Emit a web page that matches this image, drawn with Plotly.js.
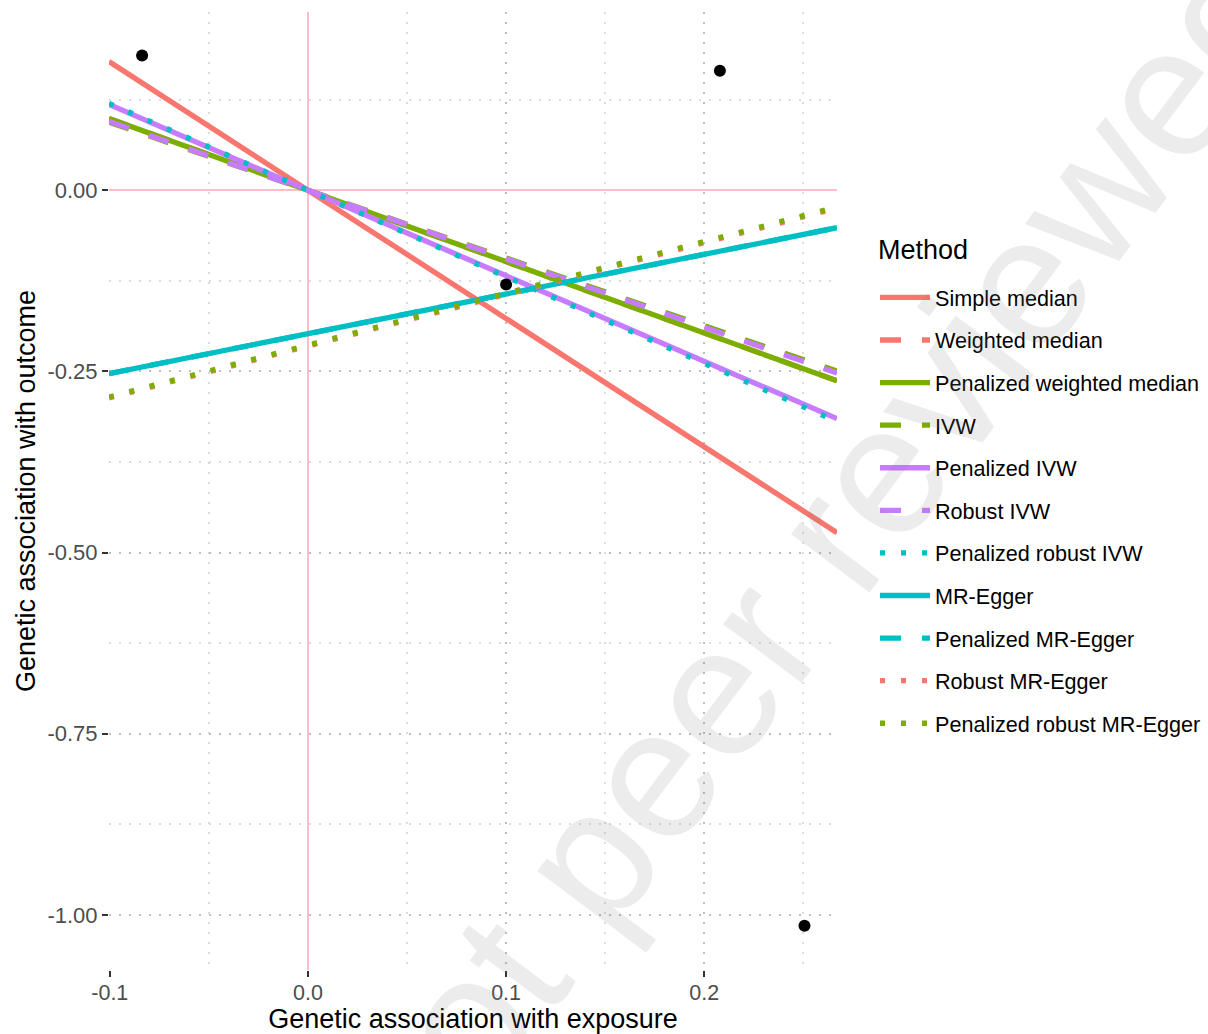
<!DOCTYPE html>
<html>
<head>
<meta charset="utf-8">
<script src="https://cdn.plot.ly/plotly-3.0.1.min.js"></script>
<style>html,body{margin:0;padding:0;background:#fff;}#chart{width:1208px;height:1034px;}</style>
</head>
<body>
<div id="chart"></div>
<script>
// SNP associations (points)
const snpX = [-0.0837, 0.1, 0.2079, 0.2506];
const snpY = [0.186, -0.13, 0.165, -1.015];

// Method estimates (intercept, slope) drawn as lines across the panel
const methods = ["Simple median", "Weighted median", "Penalized weighted median", "IVW",
  "Penalized IVW", "Robust IVW", "Penalized robust IVW", "MR-Egger",
  "Penalized MR-Egger", "Robust MR-Egger", "Penalized robust MR-Egger"];
const intercepts = [0, 0, 0, 0, 0, 0, 0, -0.198, -0.198, -0.215, -0.2136];
const slopes = [-1.77, -0.985, -0.985, -0.935, -1.18, -0.945, -1.195, 0.548, 0.548, 0.713, 0.714];
const methodColors = ["#F8766D", "#F8766D", "#7CAE00", "#7CAE00", "#C77CFF", "#C77CFF",
  "#00BFC4", "#00BFC4", "#00BFC4", "#F8766D", "#7CAE00"];
const methodDash = ["solid", "dash", "solid", "dash", "solid", "dash", "dot", "solid", "dash", "dot", "dot"];

const xRange = [-0.1004, 0.2670];
const yRange = [-1.076, 0.246];
const xTicks = [-0.1, 0.0, 0.1, 0.2];
const xTickLabels = ["-0.1", "0.0", "0.1", "0.2"];
const yTicks = [0.0, -0.25, -0.5, -0.75, -1.0];
const yTickLabels = ["0.00", "-0.25", "-0.50", "-0.75", "-1.00"];

const dashMap = {solid: "solid", dash: "21px,21px", dot: "5px,16px"};
const FONT = "Liberation Sans, Arial, Helvetica, sans-serif";

const traces = methods.map((m, i) => ({
  type: "scatter",
  mode: "lines",
  name: m,
  legendgroup: "g" + i,
  x: xRange,
  y: xRange.map(x => intercepts[i] + slopes[i] * x),
  line: {color: methodColors[i], width: 5.3, dash: dashMap[methodDash[i]]},
  hoverinfo: "skip"
}));

traces.push({
  type: "scatter",
  mode: "markers",
  x: snpX,
  y: snpY,
  marker: {color: "#000000", size: 12},
  showlegend: false,
  hoverinfo: "skip"
});

const gridDash = "2px,8px";
const layout = {
  width: 1208,
  height: 1034,
  margin: {l: 109, r: 371, t: 12, b: 64, autoexpand: false},
  paper_bgcolor: "#ffffff",
  plot_bgcolor: "#ffffff",
  font: {family: FONT, color: "#000000"},
  showlegend: true,
  xaxis: {
    range: xRange,
    tickvals: xTicks,
    ticktext: xTickLabels,
    ticks: "outside",
    ticklen: 6,
    tickwidth: 2,
    tickcolor: "#333333",
    ticklabelstandoff: -3,
    tickfont: {size: 21.5, color: "#4d4d4d", family: FONT},
    showline: false,
    showgrid: true,
    gridcolor: "#bdbdbd",
    gridwidth: 2,
    griddash: gridDash,
    minor: {dtick: 0.05, tick0: 0.05, showgrid: true, gridcolor: "#dcdcdc", gridwidth: 2, griddash: gridDash, ticks: ""},
    zeroline: true,
    zerolinecolor: "rgba(255,182,193,0.9)",
    zerolinewidth: 2,
    title: {text: "Genetic association with exposure", font: {size: 27, color: "#000000", family: FONT}, standoff: 6},
    automargin: false
  },
  yaxis: {
    range: yRange,
    tickvals: yTicks,
    ticktext: yTickLabels,
    ticks: "outside",
    ticklen: 6,
    tickwidth: 2,
    tickcolor: "#333333",
    tickfont: {size: 22, color: "#4d4d4d", family: FONT},
    showline: false,
    showgrid: true,
    gridcolor: "#bdbdbd",
    gridwidth: 2,
    griddash: gridDash,
    minor: {dtick: 0.125, tick0: 0.125, showgrid: true, gridcolor: "#dcdcdc", gridwidth: 2, griddash: gridDash, ticks: ""},
    zeroline: true,
    zerolinecolor: "rgba(255,182,193,0.9)",
    zerolinewidth: 2,
    title: {text: "Genetic association with outcome", font: {size: 27, color: "#000000", family: FONT}, standoff: 3},
    automargin: false
  },
  legend: {
    x: 1.0522,
    xanchor: "left",
    y: 0.7235,
    yanchor: "top",
    font: {size: 21.6, color: "#000000", family: FONT},
    traceorder: "grouped",
    tracegroupgap: 11.5,
    itemwidth: 50,
    bgcolor: "rgba(0,0,0,0)",
    borderwidth: 0
  },
  annotations: [{
    text: "Method",
    xref: "paper", yref: "paper",
    x: 1.0535, y: 0.7518,
    xanchor: "left", yanchor: "middle",
    showarrow: false,
    font: {size: 27, color: "#000000", family: FONT}
  }, {
    text: "Not peer reviewed",
    xref: "paper", yref: "paper",
    x: 0.956, y: 0.415,
    xanchor: "center", yanchor: "middle",
    textangle: -53,
    showarrow: false,
    font: {size: 185, color: "rgba(128,128,128,0.15)", family: FONT}
  }]
};

Plotly.newPlot("chart", traces, layout, {displayModeBar: false, staticPlot: true});
</script>
</body>
</html>
